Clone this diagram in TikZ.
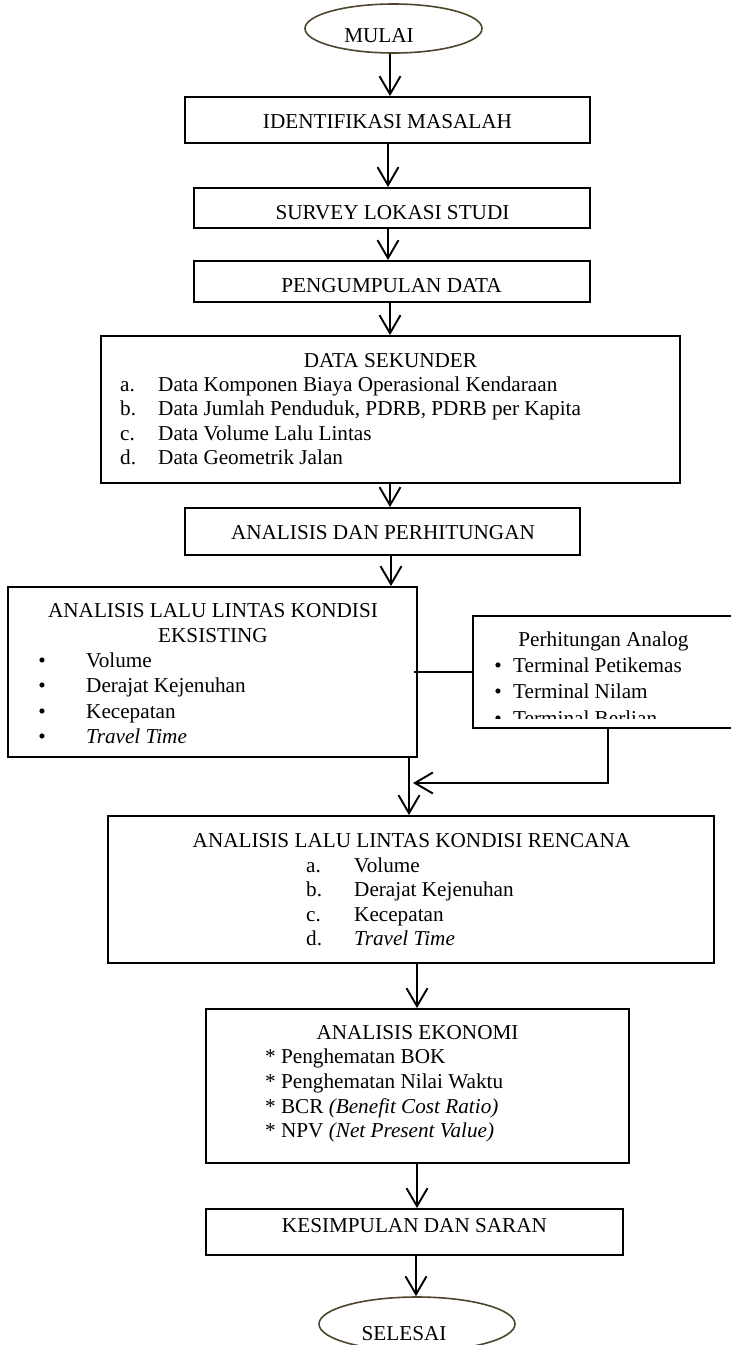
\documentclass[tikz,border=0pt]{standalone}
\usepackage{fontspec}
\setmainfont{Liberation Serif}
\usetikzlibrary{arrows.meta,shapes.geometric}
\definecolor{ellcol}{RGB}{77,70,45}
\begin{document}
\begin{tikzpicture}[x=1pt,y=-1pt,
  boxnode/.style={draw, line width=1.9pt, rectangle, inner sep=0pt},
  ellnode/.style={draw=ellcol, line width=1.6pt, ellipse, inner sep=0pt},
  txt/.style={inner sep=0pt, anchor=base, font=\fontsize{21.2}{24.5}\selectfont},
  txtw/.style={txt, anchor=base west},
  arr/.style={line width=1.9pt, -{Straight Barb[length=18pt,width=21pt,line width=1.9pt]}},
  conn/.style={line width=1.9pt}]
\useasboundingbox (0,0) rectangle (731,1345);
\clip (0,0) rectangle (731,1345);
\fill[white] (0,0) rectangle (731,1345);

% shapes
\node[ellnode, minimum width=177pt, minimum height=49pt] (mulai) at (393.5,28.5) {};
\node[boxnode, minimum width=405pt, minimum height=46pt] (ident) at (387.5,120) {};
\node[boxnode, minimum width=396pt, minimum height=40pt] (survey) at (392,208) {};
\node[boxnode, minimum width=396pt, minimum height=41pt] (peng) at (392,281.5) {};
\node[boxnode, minimum width=579pt, minimum height=147pt] (data) at (390.5,409.5) {};
\node[boxnode, minimum width=395pt, minimum height=47pt] (anal) at (382.5,531.5) {};
\node[boxnode, minimum width=409pt, minimum height=170pt] (eksis) at (212.5,672) {};
\node[boxnode, minimum width=272pt, minimum height=112pt] (perh) at (609,672) {};
\node[boxnode, minimum width=606pt, minimum height=147pt] (renc) at (411,889.5) {};
\node[boxnode, minimum width=423pt, minimum height=154pt] (ekon) at (417.5,1086) {};
\node[boxnode, minimum width=417pt, minimum height=46pt] (kesim) at (414.5,1232) {};
\node[ellnode, minimum width=196pt, minimum height=54pt] (selesai) at (417,1324) {};
\coordinate (join) at (413,783);

% texts
\node[txt] (tmulai) at (379,42) {MULAI};
\node[txt] (tident) at (387.5,128) {IDENTIFIKASI MASALAH};
\node[txt] (tsurvey) at (392.5,219) {SURVEY LOKASI STUDI};
\node[txt] (tpeng) at (391.5,292) {PENGUMPULAN DATA};
\node[txt] (tdata) at (390.5,367) {DATA SEKUNDER};
\node[txtw] (da) at (120,391) {a.};
\node[txtw] (db) at (120,415.5) {b.};
\node[txtw] (dc) at (120,440) {c.};
\node[txtw] (dd) at (120,464.5) {d.};
\node[txtw] (dat) at (158,391) {Data Komponen Biaya Operasional Kendaraan};
\node[txtw] (dbt) at (158,415.5) {Data Jumlah Penduduk, PDRB, PDRB per Kapita};
\node[txtw] (dct) at (158,440) {Data Volume Lalu Lintas};
\node[txtw] (ddt) at (158,464.5) {Data Geometrik Jalan};
\node[txt] (tanal) at (383,539) {ANALISIS DAN PERHITUNGAN};

\node[txt] (te1) at (213,617) {ANALISIS LALU LINTAS KONDISI};
\node[txt] (te2) at (213,642) {EKSISTING};
\node[txt] (eb1) at (42,667.5) {\textbullet};
\node[txt] (eb2) at (42,692.5) {\textbullet};
\node[txt] (eb3) at (42,718) {\textbullet};
\node[txt] (eb4) at (42,743.5) {\textbullet};
\node[txtw] (et1) at (86,667.5) {Volume};
\node[txtw] (et2) at (86,692.5) {Derajat Kejenuhan};
\node[txtw] (et3) at (86,718) {Kecepatan};
\node[txtw] (et4) at (86,743.5) {\itshape Travel Time};

\node[txt] (tperh) at (603.5,646.5) {Perhitungan Analog};
\begin{scope}
\clip (473,616) rectangle (731,718.5);
\node[txt] (pb1) at (498,672) {\textbullet};
\node[txt] (pb2) at (498,698) {\textbullet};
\node[txt] (pb3) at (498,725) {\textbullet};
\node[txtw] (pt1) at (513,672) {Terminal Petikemas};
\node[txtw] (pt2) at (513,698) {Terminal Nilam};
\node[txtw] (pt3) at (513,725) {Terminal Berlian};
\end{scope}

\node[txt] (trenc) at (411.5,847) {ANALISIS LALU LINTAS KONDISI RENCANA};
\node[txtw] (ra) at (306,872) {a.};
\node[txtw] (rb) at (306,896.5) {b.};
\node[txtw] (rc) at (306,921) {c.};
\node[txtw] (rd) at (306,945.5) {d.};
\node[txtw] (rat) at (354,872) {Volume};
\node[txtw] (rbt) at (354,896.5) {Derajat Kejenuhan};
\node[txtw] (rct) at (354,921) {Kecepatan};
\node[txtw] (rdt) at (354,945.5) {\itshape Travel Time};

\node[txt] (tekon) at (417.5,1039) {ANALISIS EKONOMI};
\node[txtw] (k1) at (265,1063) {* Penghematan BOK};
\node[txtw] (k2) at (265,1088) {* Penghematan Nilai Waktu};
\node[txtw] (k3) at (265,1113) {* BCR \textit{(Benefit Cost Ratio)}};
\node[txtw] (k4) at (265,1137) {* NPV \textit{(Net Present Value)}};

\node[txt] (tkesim) at (414.5,1232) {KESIMPULAN DAN SARAN};
\node[txt] (tselesai) at (404,1340) {SELESAI};

% connectors
\draw[arr] ([xshift=-3.5pt]mulai.south) -- ([xshift=-3.5pt]mulai.south |- ident.north);
\draw[arr] ([xshift=0.5pt]ident.south) -- ([xshift=0.5pt]ident.south |- survey.north);
\draw[arr] ([xshift=-4pt]survey.south) -- ([xshift=-4pt]survey.south |- peng.north);
\draw[arr] ([xshift=-2pt]peng.south) -- ([xshift=-2pt]peng.south |- data.north);
\draw[arr] ([xshift=-0.5pt]data.south) -- ([xshift=-0.5pt]data.south |- anal.north);
\draw[arr] ([xshift=8.5pt]anal.south) -- ([xshift=8.5pt]anal.south |- eksis.north);
\draw[arr] ([xshift=-2pt]renc.north |- eksis.south) -- ([xshift=-2pt]renc.north);
\draw[conn] ([xshift=-4pt]eksis.east) -- (perh.west);
\draw[arr] ([xshift=-1pt]perh.south) |- (join);
\draw[arr] ([xshift=-0.5pt]ekon.north |- renc.south) -- ([xshift=-0.5pt]ekon.north);
\draw[arr] ([xshift=-0.5pt]ekon.south) -- ([xshift=-0.5pt]ekon.south |- kesim.north);
\draw[arr] ([xshift=1.5pt]kesim.south) -- ([xshift=1.5pt]kesim.south |- selesai.north);
\end{tikzpicture}
\end{document}
